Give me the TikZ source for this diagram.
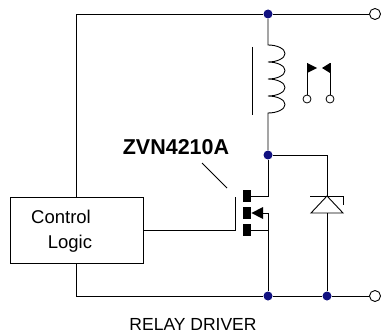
\documentclass[tikz,border=0pt]{standalone}
\usepackage{fontspec}
\setmainfont{Liberation Sans}
\definecolor{dotblue}{RGB}{16,16,128}
\tikzset{
  wire/.style={line width=0.9pt},
  junc/.style={circle, fill=dotblue, inner sep=0pt, minimum size=9pt},
  term/.style={circle, draw, fill=white, line width=0.9pt, inner sep=0pt, minimum size=11pt},
  pin/.style={circle, draw, fill=white, line width=0.8pt, inner sep=0pt, minimum size=8pt},
  chan/.style={fill=black, inner sep=0pt, minimum width=8pt, minimum height=12pt},
  coilturn/.style={start angle=90, end angle=-90, x radius=17pt, y radius=8.5pt}
}

\begin{document}
\begin{tikzpicture}[x=1pt, y=-1pt, wire]
\useasboundingbox (0,0) rectangle (382,334);
\node[draw, wire, minimum width=133pt, minimum height=66pt, inner sep=0pt] (ctrl) at (76.5,230) {};
\node[font=\fontsize{18.5}{20}\selectfont] (ctrlA) at (61,217) {Control};
\node[font=\fontsize{18.5}{20}\selectfont] (ctrlB) at (70,244) {Logic};
\node[junc] (j1) at (268,14) {};
\node[junc] (j2) at (268,155) {};
\node[junc] (j3) at (268,296) {};
\node[junc] (j4) at (327,296) {};
\node[term] (outT) at (375,14) {};
\node[term] (outB) at (375,296) {};
\draw (ctrl.north) -- (ctrl.north |- j1) -- (j1) -- (outT);
\draw (ctrl.south) |- (j3) -- (j4) -- (outB);
% relay coil and contacts
\coordinate (c1) at (268,45);
\draw (j1) -- (c1) arc[coilturn] arc[coilturn] arc[coilturn] arc[coilturn] -- (j2);
\draw (252,47) -- (252,115); % core
\node[pin] (pa) at (307,99) {};
\node[pin] (pb) at (330,99) {};
\coordinate (fa) at (307,63);
\coordinate (fb) at (330,63);
\draw (pa) -- (fa);
\draw (pb) -- (fb);
\fill (fa) -- ++(10,5) -- ++(-10,5) -- cycle;
\fill (fb) -- ++(-8,5) -- ++(8,5) -- cycle;
% zener
\coordinate (zk) at (327,155);
\coordinate (zt) at (327,196);
\coordinate (zb) at (327,213);
\draw (j2) -- (zk) -- (zt);
\draw (310,196) -- (343,196) -- (343,205);
\draw (zt) -- (311,213) -- (343,213) -- cycle;
\draw (zb) -- (j4);
% mosfet
\node[chan] (md) at (247,196) {};
\node[chan] (mb) at (247,213) {};
\node[chan] (ms) at (247,230) {};
\coordinate (src) at (268,213);
\draw (j2) |- (md.east);
\draw (j3) -- (src) -- (263,213);
\fill (mb.east) -- (263,207) -- (263,219) -- cycle;
\draw (ms.east) -- (ms.east -| src);
\coordinate (g1) at (235,197);
\draw (g1) |- (ctrl.east);
% labels
\node[font=\bfseries\fontsize{21.5}{24}\selectfont] (part) at (176,147) {ZVN4210A};
\coordinate (lead) at (227,188);
\draw (202,163) -- (lead);
\node[font=\fontsize{17.5}{20}\selectfont] (title) at (193,324) {RELAY DRIVER};
\end{tikzpicture}
\end{document}
